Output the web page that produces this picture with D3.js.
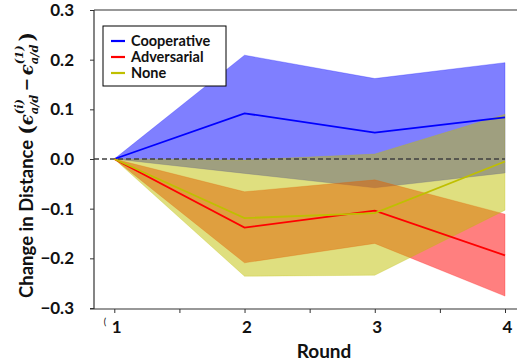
<!DOCTYPE html>
<html>
<head>
<meta charset="utf-8">
<script src="https://cdn.jsdelivr.net/npm/d3@7"></script>
<style>
  html, body { margin: 0; padding: 0; background: #fff; }
  svg { display: block; }
  text { font-family: Lato, "Open Sans", sans-serif; font-weight: bold; fill: #111; }
</style>
</head>
<body>
<svg id="chart" width="517" height="364"></svg>
<script>
// Rounds on the x axis
const rounds = [1, 2, 3, 4];

// Cooperative: mean change and band
const coopMean  = [0, 0.092, 0.053, 0.084];
const coopLow   = [0, -0.029, -0.058, -0.028];
const coopHigh  = [0, 0.209, 0.162, 0.194];

// Adversarial: mean change and band
const advMean   = [0, -0.138, -0.104, -0.194];
const advLow    = [0, -0.209, -0.170, -0.276];
const advHigh   = [0, -0.066, -0.042, -0.111];

// None: mean change and band
const noneMean  = [0, -0.119, -0.109, -0.005];
const noneLow   = [0, -0.236, -0.234, -0.103];
const noneHigh  = [0, -0.002, 0.010, 0.090];

const yTicks = [-0.3, -0.2, -0.1, 0.0, 0.1, 0.2, 0.3];
const xTicks = [1, 1.5, 2, 2.5, 3, 3.5, 4];
const xTickLabels = ["1", "", "2", "", "3", "", "4"];

const series = [
  { name: "Cooperative", color: "rgb(0,0,255)",   mean: coopMean, low: coopLow, high: coopHigh },
  { name: "Adversarial", color: "rgb(255,0,0)",   mean: advMean,  low: advLow,  high: advHigh },
  { name: "None",        color: "rgb(191,191,0)", mean: noneMean, low: noneLow, high: noneHigh }
];

const svg = d3.select("#chart");
const plotLeft = 94, plotRight = 517, plotTop = 10, plotBottom = 309;

const x = d3.scaleLinear().domain([1, 4]).range([114.3, 505]);
const y = d3.scaleLinear().domain([-0.3, 0.3]).range([308, 10]);

// Confidence bands
const area = d3.area()
  .x((d, i) => x(rounds[i]))
  .y0(d => y(d[0]))
  .y1(d => y(d[1]));

series.forEach(s => {
  const pts = rounds.map((r, i) => [s.low[i], s.high[i]]);
  svg.append("path")
    .attr("d", area(pts))
    .attr("fill", s.color)
    .attr("fill-opacity", 0.5)
    .attr("stroke", s.color)
    .attr("stroke-opacity", 0.25)
    .attr("stroke-width", 1);
});

// Zero reference line
svg.append("line")
  .attr("x1", plotLeft).attr("x2", x(4))
  .attr("y1", y(0)).attr("y2", y(0))
  .attr("stroke", "#404040")
  .attr("stroke-width", 1.6)
  .attr("stroke-dasharray", "5,3");

// Mean lines
const line = d3.line().x((d, i) => x(rounds[i])).y(d => y(d));
series.forEach(s => {
  svg.append("path")
    .attr("d", line(s.mean))
    .attr("fill", "none")
    .attr("stroke", s.color)
    .attr("stroke-width", 1.8);
});

// Axes
const yAxis = d3.axisLeft(y).tickValues(yTicks).tickFormat(d3.format(".1f")).tickSize(4).tickPadding(16);
const gy = svg.append("g").attr("transform", `translate(${plotLeft},0)`).call(yAxis);
gy.select(".domain").remove();
gy.selectAll("text").style("font-size", "17px").attr("fill", "#111");
gy.selectAll(".tick line").attr("stroke", "#333");

const xAxis = d3.axisBottom(x).tickValues(xTicks).tickFormat((d, i) => xTickLabels[i]).tickSize(4).tickPadding(8);
const gx = svg.append("g").attr("transform", `translate(0,${plotBottom})`).call(xAxis);
gx.select(".domain").remove();
gx.selectAll("text").style("font-size", "17px").attr("fill", "#111").attr("dx", 2);
gx.selectAll(".tick line").attr("stroke", "#333");

// Frame
svg.append("line").attr("x1", plotLeft).attr("x2", plotLeft).attr("y1", plotTop).attr("y2", plotBottom).attr("stroke", "#333").attr("stroke-width", 1.2);
svg.append("line").attr("x1", plotLeft).attr("x2", plotRight).attr("y1", plotTop).attr("y2", plotTop).attr("stroke", "#333").attr("stroke-width", 1.2);
svg.append("line").attr("x1", plotLeft - 4).attr("x2", plotRight).attr("y1", plotBottom).attr("y2", plotBottom).attr("stroke", "#333").attr("stroke-width", 1.2);

// Small stray glyph beside the first round label
svg.append("text").attr("x", 105).attr("y", 325).attr("text-anchor", "middle")
  .style("font-size", "9px").style("font-weight", "normal").style("fill", "#000").text("(");

// X axis title
svg.append("text").attr("x", 324).attr("y", 358).attr("text-anchor", "middle")
  .style("font-size", "19px").text("Round");

// Y axis title with math notation
const yt = svg.append("g").attr("transform", "translate(33,0) rotate(-90)");
let cx = 0;
const mathFont = "'DejaVu Serif', 'Liberation Serif', serif";
function piece(str, opts) {
  const t = yt.append("text").attr("x", cx).attr("y", opts.dy || 0).text(str)
    .style("font-size", (opts.size || 18.5) + "px");
  if (opts.math) t.style("font-family", mathFont).style("font-weight", "bold");
  if (opts.italic) t.style("font-style", "italic");
  return t;
}
function adv(t, extra) { cx += t.node().getComputedTextLength() + (extra || 0); }
adv(piece("Change in Distance", {}), 5);
adv(piece("(", { math: true, size: 20, dy: 1 }));
function eps(sup) {
  adv(piece("\u03F5", { math: true, italic: true, size: 18 }));
  const sub = piece("a/d", { math: true, italic: true, size: 11.5, dy: 5 });
  const sp = piece(sup, { math: true, italic: true, size: 11.5, dy: -10 });
  cx += Math.max(sub.node().getComputedTextLength(), sp.node().getComputedTextLength()) + 3;
}
eps("(i)");
adv(piece("\u2212", { math: true, size: 16, dy: -1 }), 3);
eps("(1)");
adv(piece(")", { math: true, size: 20, dy: 1 }));
// Center the whole title along the axis
yt.attr("transform", `translate(33,${165 + cx / 2}) rotate(-90)`);

// Legend
const lg = svg.append("g").attr("transform", "translate(103,26)");
lg.append("rect").attr("width", 123).attr("height", 60).attr("fill", "#fff").attr("stroke", "#000").attr("stroke-width", 1);
series.forEach((s, i) => {
  const yy = 15 + i * 16;
  lg.append("line").attr("x1", 8).attr("x2", 22).attr("y1", yy).attr("y2", yy)
    .attr("stroke", s.color).attr("stroke-width", 2.2);
  lg.append("text").attr("x", 28).attr("y", yy + 5).style("font-size", "14.5px").text(s.name);
});
</script>
</body>
</html>
